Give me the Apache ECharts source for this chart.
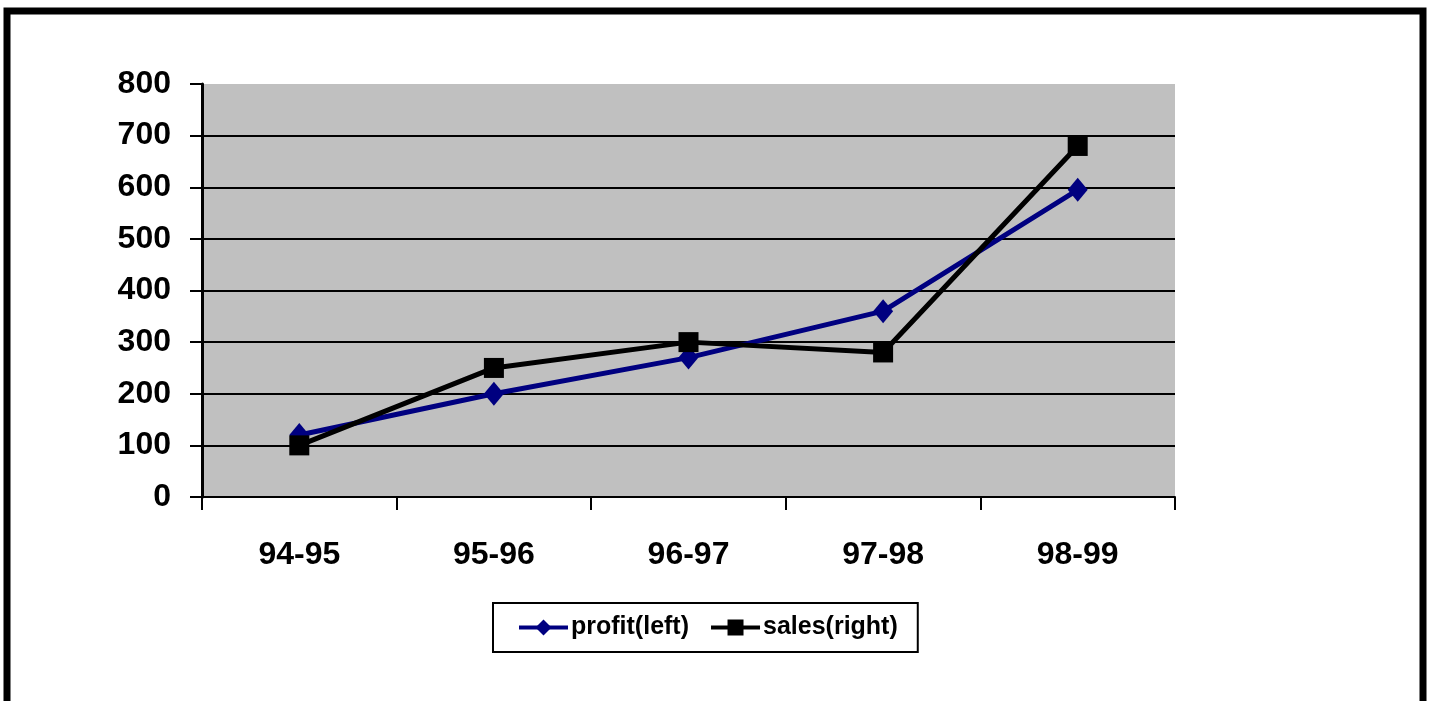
<!DOCTYPE html>
<html><head><meta charset="utf-8">
<script src="https://cdn.jsdelivr.net/npm/echarts@6/dist/echarts.min.js"></script>
<style>html,body{margin:0;padding:0;background:#fff}#c{width:1436px;height:701px}</style>
</head><body><div id="c"></div>
<script>
const categories = ['94-95','95-96','96-97','97-98','98-99'];
const profit = [120, 200, 270, 360, 595];
const sales = [100, 250, 300, 280, 680];
const yTicks = {min: 0, max: 800, interval: 100};

const chart = echarts.init(document.getElementById('c'));
const font = '"Liberation Sans", Arial, sans-serif';
chart.setOption({
  animation: false,
  backgroundColor: '#fff',
  graphic: [{
    type: 'rect', shape: {x: 7, y: 11, width: 1416, height: 730},
    style: {fill: 'none', stroke: '#000', lineWidth: 7}, z: 100
  }],
  grid: {left: 202, top: 84, right: 261, bottom: 204, show: true, backgroundColor: '#c0c0c0', borderWidth: 0},
  legend: {
    left: 493, top: 603, width: 424,
    orient: 'horizontal',
    borderColor: '#000', borderWidth: 2, backgroundColor: '#fff',
    padding: [12, 20, 12, 24],
    itemWidth: 49, itemHeight: 20, itemGap: 20,
    lineStyle: {width: 4},
    textStyle: {fontFamily: font, fontWeight: 'bold', fontSize: 25, color: '#000', padding: [0,0,0,-2]},
    data: ['profit(left)', 'sales(right)']
  },
  xAxis: {
    type: 'category', data: categories, boundaryGap: true,
    axisLine: {show: true, lineStyle: {color: '#000', width: 2}},
    axisTick: {show: true, length: 13, interval: 0, lineStyle: {color: '#000', width: 2}},
    axisLabel: {margin: 42, fontFamily: font, fontWeight: 'bold', fontSize: 32, color: '#000', interval: 0},
    splitLine: {show: false}
  },
  yAxis: {
    type: 'value', min: yTicks.min, max: yTicks.max, interval: yTicks.interval,
    axisLine: {show: true, lineStyle: {color: '#000', width: 3}},
    axisTick: {show: true, length: 12, lineStyle: {color: '#000', width: 2}},
    axisLabel: {margin: 31, fontFamily: font, fontWeight: 'bold', fontSize: 32, color: '#000'},
    splitLine: {show: true, showMaxLine: false, showMinLine: false, lineStyle: {color: '#000', width: 2}}
  },
  series: [
    {
      name: 'profit(left)', type: 'line', data: profit,
      symbol: 'diamond', symbolSize: [20, 24],
      lineStyle: {color: '#000080', width: 5},
      itemStyle: {color: '#000080'}, z: 3
    },
    {
      name: 'sales(right)', type: 'line', data: sales,
      symbol: 'rect', symbolSize: 20,
      lineStyle: {color: '#000', width: 5},
      itemStyle: {color: '#000'}, z: 4
    }
  ]
});
</script></body></html>
